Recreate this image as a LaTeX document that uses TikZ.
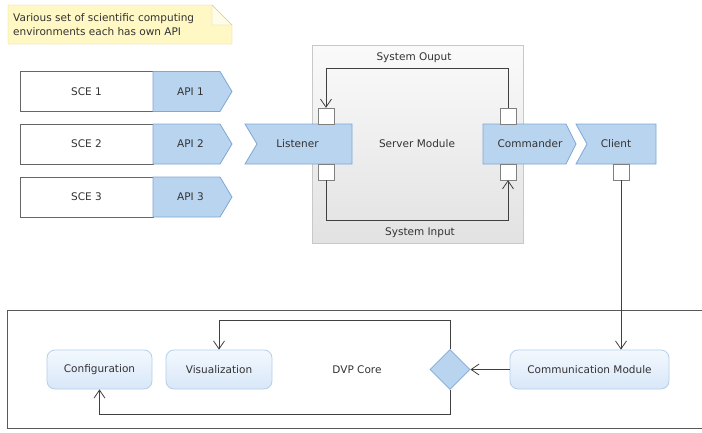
\documentclass[tikz,border=0pt]{standalone}
\usepackage{fontspec}
\setmainfont{DejaVu Sans}
\usetikzlibrary{shapes.geometric,arrows.meta}
\definecolor{apifill}{HTML}{B9D4EE}
\definecolor{apiborder}{HTML}{7FA7D7}
\definecolor{txt}{HTML}{333333}
\definecolor{notefill}{HTML}{FFF8C4}
\definecolor{noteborder}{HTML}{DCD28C}
\definecolor{rtop}{HTML}{F3F8FE}
\definecolor{rbot}{HTML}{D8E7F8}
\definecolor{rborder}{HTML}{B4CEEC}
\definecolor{srvtop}{HTML}{FAFAFA}
\definecolor{srvbot}{HTML}{E2E2E2}
\definecolor{srvborder}{HTML}{C8C8C8}
% \sigpoly{left}{notch}{right}{tip}{ycenter}
\newcommand{\sigpoly}[5]{%
  \filldraw[fill=apifill, draw=apiborder, line width=0.8pt]
    (#1,#5-20) -- (#3,#5-20) -- (#4,#5) -- (#3,#5+20) -- (#1,#5+20) -- (#2,#5) -- cycle;}
\begin{document}
\begin{tikzpicture}[x=1pt,y=-1pt,
  every node/.style={font=\fontsize{10.5}{14}\selectfont, text=txt},
  sce/.style={draw=black!60, line width=0.9pt, fill=white, minimum width=133pt, minimum height=40pt, inner sep=0pt},
  sigtext/.style={inner sep=0pt},
  port/.style={draw=black!50, fill=white, minimum size=16pt, inner sep=0pt},
  rbox/.style={rounded corners=8pt, draw=rborder, line width=0.8pt, top color=rtop, bottom color=rbot, minimum height=39pt, inner sep=0pt},
  link/.style={draw=black!75, line width=0.8pt, -{Straight Barb[length=8pt,width=11pt]}},
  lbl/.style={inner sep=0pt}
]
\useasboundingbox (0,0) rectangle (702,432);

% note
\draw[noteborder, fill=notefill] (8,5) -- (212,5) -- (232,25) -- (232,44) -- (8,44) -- cycle;
\draw[noteborder, fill=white!60!notefill] (212,5) -- (212,25) -- (232,25) -- cycle;
\node[lbl, anchor=west, align=left] (note) at (13,25) {Various set of scientific computing\\environments each has own API};

% SCE rows
\foreach \i/\y in {1/91.5, 2/144, 3/197} {
  \node[sce] (sce\i) at (86.5,\y) {SCE \i};
  \sigpoly{153}{153}{220}{232}{\y}
  \node[sigtext] (api\i) at (190.5,\y) {API \i};
}

% server module
\node[draw=srvborder, line width=0.8pt, top color=srvtop, bottom color=srvbot, minimum width=211pt, minimum height=198pt, inner sep=0pt] (server) at (417.5,144) {};
\node[lbl] (srvlabel) at (417,144) {Server Module};
\node[lbl] (sout) at (414,58) {System Ouput};
\node[lbl] (sin) at (420,233) {System Input};

\sigpoly{245}{257}{352}{352}{144}
\node[sigtext] (listener) at (297.5,144) {Listener};
\sigpoly{483}{483}{566}{576}{144}
\node[sigtext] (commander) at (530,144) {Commander};
\sigpoly{576}{587}{656}{656}{144}
\node[sigtext] (client) at (616,144) {Client};

\node[port] (lt) at (326,116) {};
\node[port] (lb) at (326,172) {};
\node[port] (ct) at (508,116) {};
\node[port] (cb) at (508,172) {};
\node[port] (clp) at (621,172) {};

\draw[link] (ct.north) -- (ct.north |- 0,68) -- (lt.north |- 0,68) -- (lt.north);
\draw[link] (lb.south) -- (lb.south |- 0,220) -- (cb.south |- 0,220) -- (cb.south);

% DVP core
\draw[black!65, line width=0.9pt] (703,310) -- (7,310) -- (7,428) -- (703,428);
\node[lbl] (core) at (357,369.5) {DVP Core};
\node[rbox, minimum width=105pt] (config) at (99.5,369.5) {Configuration};
\node[rbox, minimum width=106pt] (viz) at (219,369.5) {Visualization};
\node[rbox, minimum width=159pt] (comm) at (589.5,369.5) {Communication Module};
\node[diamond, aspect=1, minimum size=40pt, inner sep=0pt, fill=apifill, draw=apiborder, line width=0.8pt] (dia) at (450,369.5) {};

\draw[link] (clp.south) -- (clp.south |- comm.north);
\draw[link] (comm.west) -- (dia.east);
\draw[link] (dia.north) -- (dia.north |- 0,320) -- (viz.north |- 0,320) -- (viz.north);
\draw[link] (dia.south) -- (dia.south |- 0,414) -- (config.south |- 0,414) -- (config.south);
\end{tikzpicture}
\end{document}
